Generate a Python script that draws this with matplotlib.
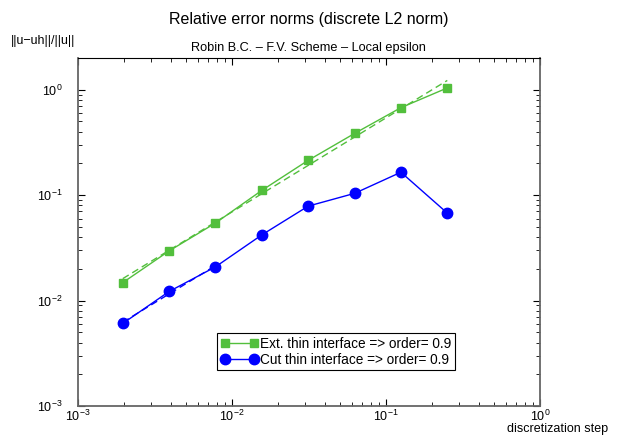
import matplotlib
matplotlib.use("Agg")
import matplotlib.pyplot as plt
import numpy as np

plt.rcParams['font.family'] = ['Liberation Sans', 'DejaVu Sans']

# mesh sizes h = 1/512 ... 1/4
h = np.array([1/512, 1/256, 1/128, 1/64, 1/32, 1/16, 1/8, 1/4])
err_ext = np.array([0.0148, 0.0296, 0.0544, 0.111, 0.214, 0.385, 0.676, 1.04])
err_cut = np.array([0.00607, 0.0122, 0.0209, 0.042, 0.0787, 0.104, 0.165, 0.0676])

green = '#52bf3c'
blue = '#0000ff'

fig = plt.figure(figsize=(6.24, 4.37), dpi=100)
ax = fig.add_axes([0.125, 0.0709, 0.7404, 0.7964])

ax.loglog(h, err_ext, '-s', color=green, lw=1, ms=6, mec=green,
          label='Ext. thin interface => order= 0.9')
ax.loglog(h, err_cut, '-o', color=blue, lw=1, ms=7.5, mec=blue,
          label='Cut thin interface => order= 0.9')

# least squares fits in log-log
p1 = np.polyfit(np.log10(h), np.log10(err_ext), 1)
ax.loglog(h, 10 ** np.polyval(p1, np.log10(h)), '--', color=green, lw=1, dashes=(5, 3))
n = 3
p2 = np.polyfit(np.log10(h[:n]), np.log10(err_cut[:n]), 1)
ax.loglog(h[:n], 10 ** np.polyval(p2, np.log10(h[:n])), '--', color=blue, lw=1, dashes=(5, 3))

ax.set_xlim(1e-3, 1e0)
ax.set_ylim(1e-3, 2)

ax.tick_params(which='both', direction='in', top=True, right=True, labelsize=9)
ax.tick_params(which='major', length=5)
ax.tick_params(which='minor', length=3)
ax.tick_params(axis='y', which='major', pad=11)
ax.tick_params(axis='x', which='major', pad=2)

for side in ['left', 'right', 'bottom']:
    ax.spines[side].set_color('#666666')
    ax.spines[side].set_linewidth(1.3)
ax.spines['top'].set_color('black')
ax.spines['top'].set_linewidth(0.8)

leg = ax.legend(loc='lower left', bbox_to_anchor=(0.3009, 0.1034), fontsize=9.8,
                numpoints=2, fancybox=False, framealpha=1, edgecolor='black',
                handlelength=2.8, handletextpad=0.1, borderpad=0.25,
                labelspacing=0.15, borderaxespad=0)
leg.get_frame().set_linewidth(0.8)

fig.text(0.495, 0.955, 'Relative error norms (discrete L2 norm)',
         ha='center', va='center', fontsize=11.5)
fig.text(0.495, 0.891, 'Robin B.C. \u2013 F.V. Scheme \u2013 Local epsilon',
         ha='center', va='center', fontsize=9.2)
fig.text(0.017, 0.906, '||u\u2212uh||/||u||', ha='left', va='center', fontsize=9)
fig.text(0.975, 0.019, 'discretization step', ha='right', va='center', fontsize=9)

fig.savefig('out.png', dpi=100)
